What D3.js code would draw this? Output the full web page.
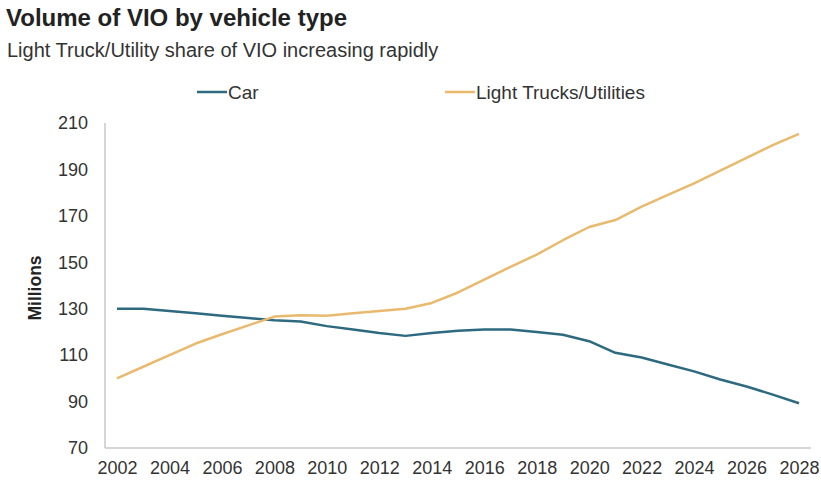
<!DOCTYPE html>
<html>
<head>
<meta charset="utf-8">
<script src="https://cdn.jsdelivr.net/npm/d3@7"></script>
<style>
  body { margin: 0; background: #fff; }
  svg { font-family: "Liberation Sans", Arial, sans-serif; }
</style>
</head>
<body>
<svg id="chart" width="821" height="485"></svg>
<script>
// data (millions of vehicles in operation)
const years = d3.range(2002, 2029);
const carValues = [130, 130, 129, 128, 127, 126, 125, 124.5, 122.5, 121, 119.5, 118.3, 119.5, 120.5, 121, 121, 120, 118.8, 116, 111, 109, 106, 103, 99.5, 96.5, 93, 89.3];
const truckValues = [100, 105, 110, 115, 119, 122.8, 126.6, 127.2, 127, 128, 129, 130, 132.5, 137, 142.5, 148, 153.3, 159.5, 165.2, 168.2, 174, 179, 184, 189.5, 195, 200.5, 205.3];
const yTicks = [70, 90, 110, 130, 150, 170, 190, 210];
const xTicks = d3.range(2002, 2029, 2);

const series = [
  { name: 'Car', values: carValues, color: '#2d6a7f' },
  { name: 'Light Trucks/Utilities', values: truckValues, color: '#e9b96e' }
];

let svg = d3.select('#chart');

// title + subtitle
svg.append('text')
  .attr('x', 6).attr('y', 26)
  .style('font-size', '24px')
  .style('font-weight', 'bold')
  .attr('fill', '#222')
  .text('Volume of VIO by vehicle type');

svg.append('text')
  .attr('x', 7).attr('y', 57)
  .style('font-size', '20px')
  .attr('fill', '#333')
  .text('Light Truck/Utility share of VIO increasing rapidly');

// scales
let x = d3.scaleLinear().domain([2002, 2028]).range([117, 799]);
let y = d3.scaleLinear().domain([70, 210]).range([448, 123]);

// axis lines (no ticks)
svg.append('line')
  .attr('x1', 105).attr('x2', 105)
  .attr('y1', 123).attr('y2', 448)
  .attr('stroke', '#c8c8c8').attr('stroke-width', 1.5);

svg.append('line')
  .attr('x1', 105).attr('x2', 811)
  .attr('y1', 448).attr('y2', 448)
  .attr('stroke', '#c8c8c8').attr('stroke-width', 1.5);

// y tick labels
let yAxis = d3.axisLeft(y).tickValues(yTicks).tickSize(0).tickPadding(0);
let gy = svg.append('g')
  .attr('transform', 'translate(88,0)')
  .call(yAxis);
gy.select('.domain').remove();
gy.selectAll('text')
  .style('font-size', '18px')
  .style('font-family', '"Liberation Sans", Arial, sans-serif')
  .attr('fill', '#333');

// x tick labels
let xAxis = d3.axisBottom(x).tickValues(xTicks).tickFormat(d3.format('d')).tickSize(0).tickPadding(0);
let gx = svg.append('g')
  .attr('transform', 'translate(0,461)')
  .call(xAxis);
gx.select('.domain').remove();
gx.selectAll('text')
  .style('font-size', '18px')
  .style('font-family', '"Liberation Sans", Arial, sans-serif')
  .attr('fill', '#333');

// y axis title
svg.append('text')
  .attr('transform', 'translate(41,288) rotate(-90)')
  .style('text-anchor', 'middle')
  .style('font-size', '17.5px')
  .style('font-weight', 'bold')
  .attr('fill', '#222')
  .text('Millions');

// lines
let line = d3.line()
  .x((d, i) => x(years[i]))
  .y((d) => y(d));

svg.append('g').selectAll('path')
  .data(series)
  .enter().append('path')
  .attr('fill', 'none')
  .attr('stroke', (d) => d.color)
  .attr('stroke-width', 2.5)
  .attr('stroke-linejoin', 'round')
  .attr('d', (d) => line(d.values));

// legend
let legendX = [197, 445];
let legend = svg.append('g').selectAll('g')
  .data(series)
  .enter().append('g')
  .attr('transform', (d, i) => `translate(${legendX[i]},92)`);

legend.append('line')
  .attr('x1', 0).attr('x2', 30)
  .attr('stroke', (d) => d.color)
  .attr('stroke-width', 2.5);

legend.append('text')
  .attr('x', 31).attr('y', 7)
  .style('font-size', '19px')
  .attr('fill', '#333')
  .text((d) => d.name);
</script>
</body>
</html>
